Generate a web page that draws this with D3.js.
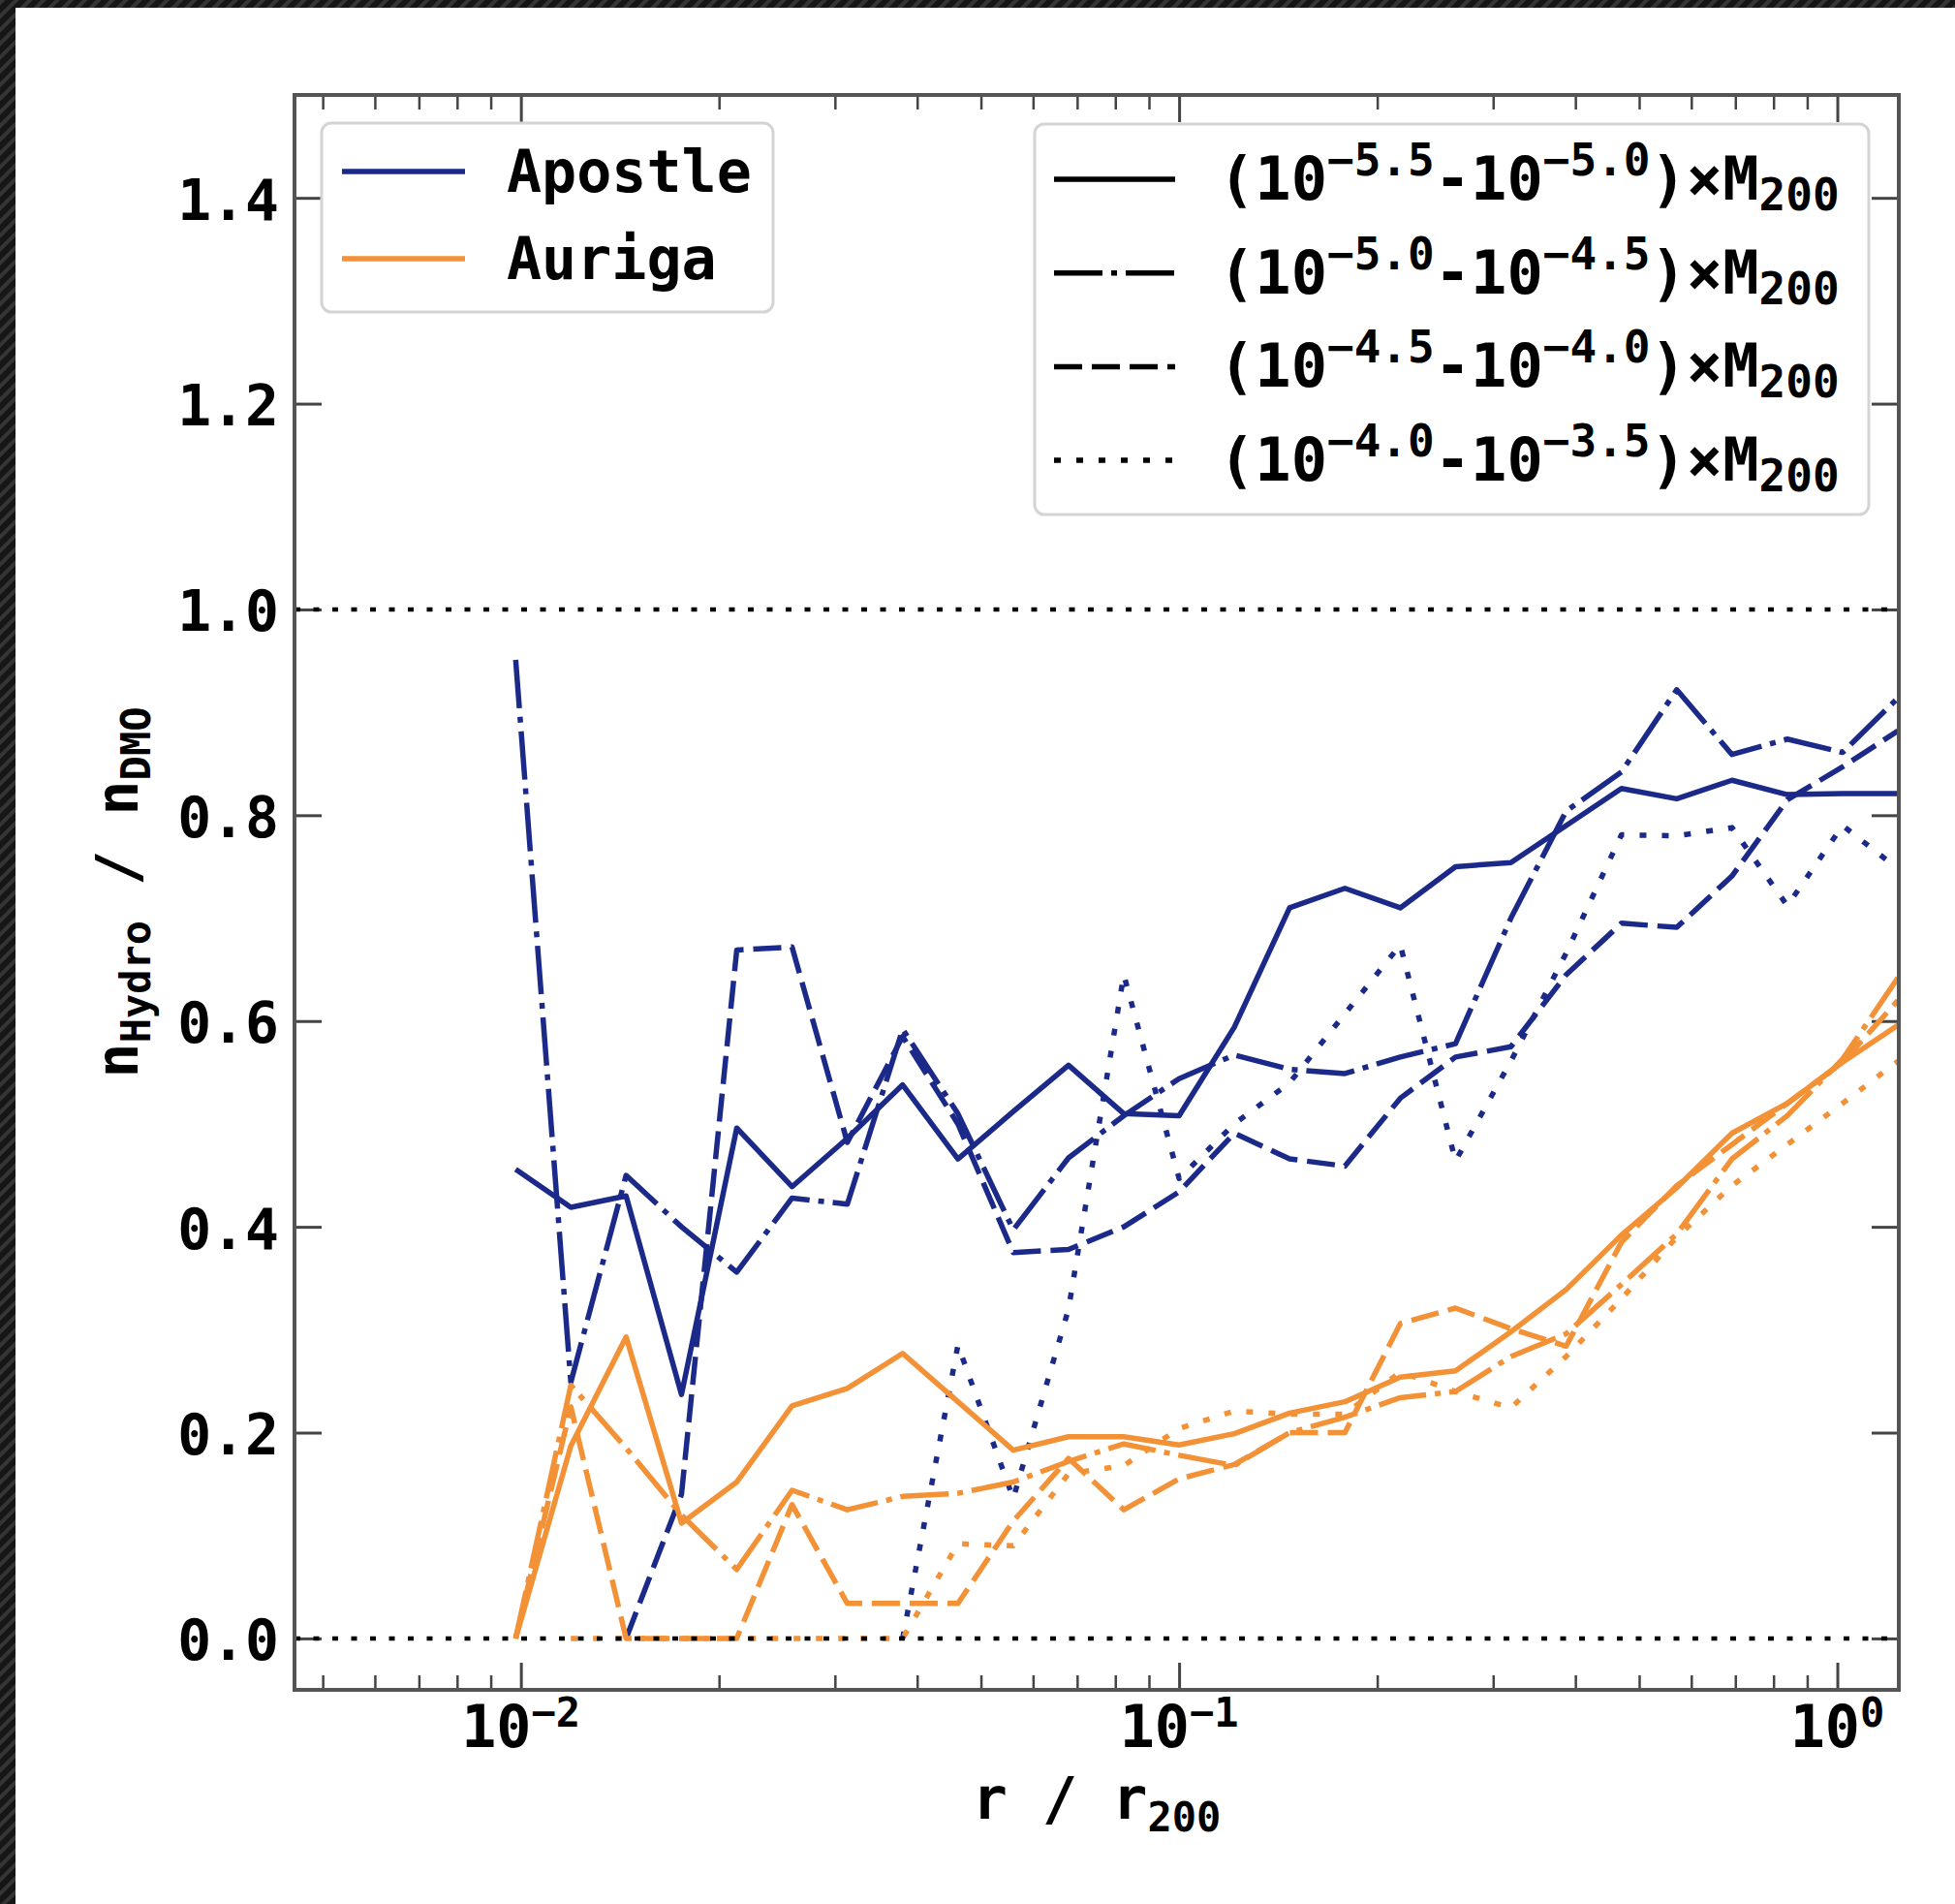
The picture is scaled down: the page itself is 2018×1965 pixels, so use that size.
<!DOCTYPE html>
<html>
<head>
<meta charset="utf-8">
<script src="https://cdn.jsdelivr.net/npm/d3@7"></script>
<style>
  body { margin: 0; background: #fff; }
  svg text { font-family: "DejaVu Sans Mono", monospace; font-weight: bold; fill: #000; }
</style>
</head>
<body>
<div id="chart"></div>
<script>
// radial bins (r / r200)
const radius = [0.00982, 0.01191, 0.01445, 0.01754, 0.02128, 0.02582, 0.03133, 0.03802, 0.04613, 0.05598,
  0.06792, 0.08241, 0.1000, 0.1213, 0.1472, 0.1786, 0.2168, 0.2630, 0.3192, 0.3873,
  0.4699, 0.5702, 0.6918, 0.8395, 1.0186, 1.236]

// n_Hydro / n_DMO, Apostle
const apostleBin1 = [0.456, 0.419, 0.430, 0.237, 0.496, 0.439, 0.486, 0.538, 0.466, 0.512, 0.557, 0.510, 0.508,
  0.594, 0.710, 0.729, 0.710, 0.750, 0.754, 0.790, 0.826, 0.816, 0.834, 0.820, 0.821, 0.821]
const apostleBin2 = [0.951, 0.249, 0.450, 0.400, 0.356, 0.428, 0.422, 0.592, 0.510, 0.397, 0.467, 0.508, 0.544,
  0.567, 0.553, 0.549, 0.565, 0.578, 0.700, 0.804, 0.842, 0.922, 0.859, 0.874, 0.861, 0.914]
const apostleBin3 = [null, null, 0.0, 0.14, 0.669, 0.672, 0.482, 0.585, 0.50, 0.375, 0.378, 0.400, 0.434,
  0.491, 0.466, 0.459, 0.525, 0.565, 0.575, 0.645, 0.695, 0.691, 0.741, 0.815, 0.847, 0.882]
const apostleBin4 = [null, null, null, null, null, null, null, 0.0, 0.285, 0.136, 0.32, 0.645, 0.447,
  0.50, 0.54, 0.607, 0.674, 0.464, 0.561, 0.666, 0.781, 0.780, 0.788, 0.712, 0.790, 0.748]

// n_Hydro / n_DMO, Auriga
const aurigaBin1 = [0.0, 0.187, 0.293, 0.112, 0.152, 0.226, 0.243, 0.277, 0.230, 0.183, 0.196, 0.196, 0.188,
  0.199, 0.219, 0.230, 0.254, 0.260, 0.298, 0.339, 0.392, 0.438, 0.491, 0.520, 0.560, 0.596]
const aurigaBin2 = [0.0, 0.246, 0.185, 0.12, 0.067, 0.144, 0.125, 0.138, 0.141, 0.152, 0.172, 0.189, 0.178,
  0.168, 0.200, 0.215, 0.234, 0.240, 0.274, 0.296, 0.344, 0.393, 0.466, 0.508, 0.563, 0.642]
const aurigaBin3 = [0.0, 0.225, 0.0, 0.0, 0.0, 0.13, 0.034, 0.034, 0.034, 0.114, 0.175, 0.125, 0.155,
  0.169, 0.200, 0.200, 0.306, 0.321, 0.301, 0.284, 0.385, 0.440, 0.480, 0.520, 0.560, 0.620]
const aurigaBin4 = [null, 0.0, 0.0, 0.0, 0.0, 0.0, 0.0, 0.0, 0.092, 0.09, 0.16, 0.168, 0.204,
  0.221, 0.218, 0.218, 0.259, 0.240, 0.224, 0.274, 0.330, 0.390, 0.440, 0.480, 0.520, 0.561]

const simulations = ["Apostle", "Auriga"]
const massBins = [["−5.5", "−5.0"], ["−5.0", "−4.5"], ["−4.5", "−4.0"], ["−4.0", "−3.5"]]
const yTicks = [0.0, 0.2, 0.4, 0.6, 0.8, 1.0, 1.2, 1.4]
const xMajor = [0.01, 0.1, 1]
const xMajorLabels = ["−2", "−1", "0"]
const xMinor = [0.005, 0.006, 0.007, 0.008, 0.009, 0.02, 0.03, 0.04, 0.05, 0.06, 0.07, 0.08, 0.09,
  0.2, 0.3, 0.4, 0.5, 0.6, 0.7, 0.8, 0.9]
const refLines = [0.0, 1.0]

const series = [
  { sim: 0, bin: 0, values: apostleBin1 }, { sim: 0, bin: 1, values: apostleBin2 },
  { sim: 0, bin: 2, values: apostleBin3 }, { sim: 0, bin: 3, values: apostleBin4 },
  { sim: 1, bin: 0, values: aurigaBin1 }, { sim: 1, bin: 1, values: aurigaBin2 },
  { sim: 1, bin: 2, values: aurigaBin3 }, { sim: 1, bin: 3, values: aurigaBin4 }
]

// styles
const colors = ["#1b2988", "#f39136"]
const dashes = [null, "50,9,6,9", "29,10", "7,16"]
const lineWidth = 5.5

// sizes
const width = 2018
const height = 1965
const margin = { top: 98, right: 58, bottom: 221, left: 304 }
const x0 = margin.left, x1 = width - margin.right
const y0 = margin.top, y1 = height - margin.bottom

const svg = d3.select("#chart").append("svg").attr("width", width).attr("height", height)

// dark hatched frame (top + left)
const defs = svg.append("defs")
const pat = defs.append("pattern").attr("id", "hatch").attr("width", 10).attr("height", 10)
  .attr("patternUnits", "userSpaceOnUse").attr("patternTransform", "rotate(45)")
pat.append("rect").attr("width", 10).attr("height", 10).attr("fill", "#161616")
pat.append("rect").attr("width", 4).attr("height", 10).attr("fill", "#353535")
svg.append("rect").attr("width", width).attr("height", 8).attr("fill", "url(#hatch)")
svg.append("rect").attr("width", 16).attr("height", height).attr("fill", "url(#hatch)")

defs.append("clipPath").attr("id", "plotClip").append("rect")
  .attr("x", x0).attr("y", y0).attr("width", x1 - x0).attr("height", y1 - y0)

// scales
const x = d3.scaleLog().domain([0.00453, 1.24]).range([x0, x1])
const y = d3.scaleLinear().domain([-0.05, 1.5]).range([y1, y0])

// axes (ticks inward on all four sides)
const axisGroup = svg.append("g").attr("id", "axisGroup")
const addAxis = (axis, tx, ty) => {
  const g = axisGroup.append("g").attr("transform", `translate(${tx}, ${ty})`).call(axis)
  g.select(".domain").remove()
  g.selectAll("line").attr("stroke", "#444").attr("stroke-width", 3)
  return g
}
addAxis(d3.axisBottom(x).tickValues(xMajor).tickSize(-28).tickFormat(""), 0, y1)
addAxis(d3.axisBottom(x).tickValues(xMinor).tickSize(-15).tickFormat(""), 0, y1).selectAll("line").attr("stroke-width", 2.5)
addAxis(d3.axisTop(x).tickValues(xMajor).tickSize(-28).tickFormat(""), 0, y0)
addAxis(d3.axisTop(x).tickValues(xMinor).tickSize(-15).tickFormat(""), 0, y0).selectAll("line").attr("stroke-width", 2.5)
addAxis(d3.axisRight(y).tickValues(yTicks).tickSize(-28).tickFormat(""), x1, 0)
const yAxisGroup = addAxis(d3.axisLeft(y).tickValues(yTicks).tickSize(-28).tickPadding(16).tickFormat(d3.format(".1f")), x0, 0)
yAxisGroup.selectAll("text").attr("font-size", 58).attr("dy", 22).attr("font-family", null)
  .attr("fill", "#000")

// x tick labels 10^n
const xLabels = axisGroup.append("g")
xMajor.forEach((v, i) => {
  const t = xLabels.append("text").attr("x", x(v)).attr("y", 1803).attr("text-anchor", "middle").attr("font-size", 60)
  t.append("tspan").text("10")
  t.append("tspan").attr("font-size", 42).attr("dy", -21).text(xMajorLabels[i])
})

// axis titles
const xTitle = svg.append("text").attr("x", (x0 + x1) / 2).attr("y", 1877).attr("text-anchor", "middle").attr("font-size", 60)
xTitle.append("tspan").text("r / r")
xTitle.append("tspan").attr("font-size", 42).attr("dy", 13).text("200")

const yTitle = svg.append("text").attr("transform", `translate(142, ${(y0 + y1) / 2}) rotate(-90)`)
  .attr("text-anchor", "middle").attr("font-size", 60)
yTitle.append("tspan").text("n")
yTitle.append("tspan").attr("font-size", 42).attr("dy", 13).text("Hydro")
yTitle.append("tspan").attr("dy", -13).text(" / n")
yTitle.append("tspan").attr("font-size", 42).attr("dy", 13).text("DMO")

// data lines
const elementGroup = svg.append("g").attr("id", "elementGroup").attr("clip-path", "url(#plotClip)")
const line = d3.line().defined(d => d.v != null).x(d => x(d.r)).y(d => y(d.v))
series.forEach(s => {
  const pts = s.values.map((v, i) => ({ r: radius[i], v: v }))
  elementGroup.append("path").datum(pts)
    .attr("d", line)
    .attr("fill", "none")
    .attr("stroke", colors[s.sim])
    .attr("stroke-width", lineWidth)
    .attr("stroke-linejoin", "round")
    .attr("stroke-dasharray", dashes[s.bin])
})

// dotted reference lines
refLines.forEach(v => {
  svg.append("line").attr("x1", x0).attr("x2", x1).attr("y1", y(v)).attr("y2", y(v))
    .attr("stroke", "#000").attr("stroke-width", 4.5).attr("stroke-dasharray", "6,13.5")
})

// spines
svg.append("rect").attr("x", x0).attr("y", y0).attr("width", x1 - x0).attr("height", y1 - y0)
  .attr("fill", "none").attr("stroke", "#555").attr("stroke-width", 4)

// legend: simulations
const legendSim = svg.append("g")
legendSim.append("rect").attr("x", 332).attr("y", 127).attr("width", 466).attr("height", 195).attr("rx", 10)
  .attr("fill", "#fff").attr("fill-opacity", 0.8).attr("stroke", "#d4d4d4").attr("stroke-width", 3)
simulations.forEach((name, i) => {
  const cy = 177 + i * 90
  legendSim.append("line").attr("x1", 353).attr("x2", 480).attr("y1", cy).attr("y2", cy)
    .attr("stroke", colors[i]).attr("stroke-width", lineWidth)
  legendSim.append("text").attr("x", 523).attr("y", cy + 21).attr("font-size", 60).text(name)
})

// legend: mass bins
const legendMass = svg.append("g")
legendMass.append("rect").attr("x", 1068).attr("y", 128).attr("width", 861).attr("height", 403).attr("rx", 10)
  .attr("fill", "#fff").attr("fill-opacity", 0.8).attr("stroke", "#d4d4d4").attr("stroke-width", 3)
massBins.forEach((b, i) => {
  const cy = 185 + i * 96.7
  legendMass.append("line").attr("x1", 1088).attr("x2", 1213).attr("y1", cy).attr("y2", cy)
    .attr("stroke", "#000").attr("stroke-width", lineWidth).attr("stroke-dasharray", dashes[i])
  const t = legendMass.append("text").attr("x", 1258).attr("y", cy + 21).attr("font-size", 62)
  t.append("tspan").text("(10")
  t.append("tspan").attr("font-size", 46).attr("dy", -25).text(b[0])
  t.append("tspan").attr("dy", 25).text("-10")
  t.append("tspan").attr("font-size", 46).attr("dy", -25).text(b[1])
  t.append("tspan").attr("dy", 25).text(")×M")
  t.append("tspan").attr("font-size", 46).attr("dy", 11).text("200")
})
</script>
</body>
</html>
